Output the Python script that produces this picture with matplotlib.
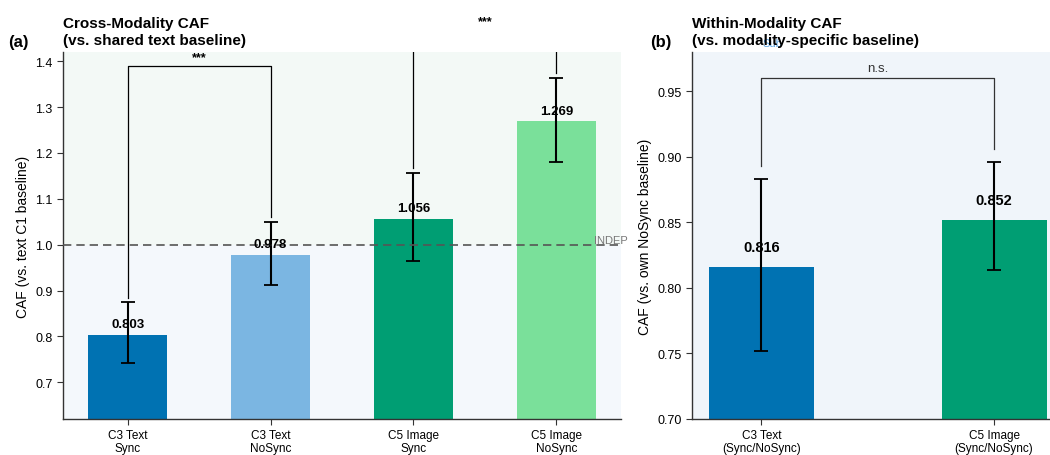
import matplotlib
matplotlib.use("Agg")
import matplotlib.pyplot as plt
import numpy as np

plt.rcParams['font.family'] = ['Liberation Sans', 'DejaVu Sans']

# Panel (a) data
cats_a = ["C3 Text\nSync", "C3 Text\nNoSync", "C5 Image\nSync", "C5 Image\nNoSync"]
vals_a = [0.803, 0.978, 1.056, 1.269]
lo_a = [0.741, 0.913, 0.965, 1.181]
hi_a = [0.874, 1.050, 1.157, 1.364]
colors_a = ["#0072B2", "#7BB6E2", "#009E73", "#7AE09A"]

# Panel (b) data
cats_b = ["C3 Text\n(Sync/NoSync)", "C5 Image\n(Sync/NoSync)"]
vals_b = [0.816, 0.852]
lo_b = [0.752, 0.814]
hi_b = [0.883, 0.896]
colors_b = ["#0072B2", "#009E73"]

# significance
sig_a = [(0, 1, 1.389, "***"), (2, 3, 1.468, "***")]
sig_b = [(0, 1, 0.960, "n.s.")]

W, H = 1050, 456
fig = plt.figure(figsize=(W / 100, H / 100), dpi=100)
ax1 = fig.add_axes([63 / W, 1 - 420 / H, 558 / W, 367 / H])
ax2 = fig.add_axes([692 / W, 1 - 420 / H, 358 / W, 367 / H])

def style(ax):
    for s in ["top", "right"]:
        ax.spines[s].set_visible(False)
    for s in ["left", "bottom"]:
        ax.spines[s].set_color("#333333")
        ax.spines[s].set_linewidth(1.0)
    ax.tick_params(axis="y", labelsize=9, color="#333333", length=4)
    ax.tick_params(axis="x", labelsize=8.5, color="#333333", length=4, pad=3)

# ---- Panel a ----
xa = np.arange(len(vals_a))
ax1.set_xlim(-0.4525, 3.4525)
ax1.set_ylim(0.62, 1.42)
ax1.axhspan(1.0, 2.0, color="#f3f9f6", zorder=0, lw=0)
ax1.axhspan(0.0, 1.0, color="#f4f8fc", zorder=0, lw=0)
ax1.set_facecolor("white")
yerr_a = np.array([np.array(vals_a) - np.array(lo_a), np.array(hi_a) - np.array(vals_a)])
ax1.bar(xa, vals_a, width=0.55, color=colors_a, edgecolor="none", zorder=2)
ax1.errorbar(xa, vals_a, yerr=yerr_a, fmt="none", ecolor="black", elinewidth=1.5,
             capsize=5, capthick=1.3, zorder=3)
ax1.axhline(1.0, color="#555555", ls="--", lw=1.2, dashes=(5, 3), zorder=4)
ax1.text(3.5, 1.0, "INDEP", ha="right", va="bottom", fontsize=8, color="#777777",
         zorder=5)
for x, v in zip(xa, vals_a):
    ax1.text(x, v + 0.01, f"{v:.3f}", ha="center", va="bottom", fontsize=9.5,
             fontweight="bold", zorder=4)
for i, j, y, lab in sig_a:
    ax1.plot([xa[i], xa[i], xa[j], xa[j]], [hi_a[i] + 0.01, y, y, hi_a[j] + 0.01],
             color="black", lw=0.9, zorder=1.8)
    ax1.text((xa[i] + xa[j]) / 2, y + 0.006, lab, ha="center", va="bottom",
             fontsize=9, fontweight="bold")
ax1.set_xticks(xa)
ax1.set_xticklabels(cats_a, linespacing=1.15)
ax1.set_yticks([0.7, 0.8, 0.9, 1.0, 1.1, 1.2, 1.3, 1.4])
ax1.set_ylabel("CAF (vs. text C1 baseline)", fontsize=10)
style(ax1)
ax1.set_title("Cross-Modality CAF\n(vs. shared text baseline)", loc="left",
              fontsize=11, fontweight="bold", pad=6, ha="left")
fig.text(8 / W, 1 - 42 / H, "(a)", fontsize=12, fontweight="bold", va="center")

# ---- Panel b ----
xb = np.arange(len(vals_b))
ax2.set_xlim(-0.2975, 1.24)
ax2.set_ylim(0.70, 0.98)
ax2.set_facecolor("#f0f5fa")
yerr_b = np.array([np.array(vals_b) - np.array(lo_b), np.array(hi_b) - np.array(vals_b)])
ax2.bar(xb, vals_b, width=0.45, color=colors_b, edgecolor="none", zorder=2)
ax2.errorbar(xb, vals_b, yerr=yerr_b, fmt="none", ecolor="black", elinewidth=1.5,
             capsize=5, capthick=1.3, zorder=3)
for x, v in zip(xb, vals_b):
    ax2.text(x, v + 0.01, f"{v:.3f}", ha="center", va="bottom", fontsize=10.5,
             fontweight="bold", zorder=4)
for i, j, y, lab in sig_b:
    ax2.plot([xb[i], xb[i], xb[j], xb[j]], [hi_b[i] + 0.01, y, y, hi_b[j] + 0.01],
             color="#333333", lw=0.9, zorder=1.8)
    ax2.text((xb[i] + xb[j]) / 2, y + 0.003, lab, ha="center", va="bottom", fontsize=9.5,
             color="#333333")
ax2.text(0.05, 0.987, "Sub", ha="center", va="center", fontsize=8, color="#56A0E0",
         clip_on=False, zorder=0)
ax2.set_xticks(xb)
ax2.set_xticklabels(cats_b, linespacing=1.15)
ax2.set_yticks([0.70, 0.75, 0.80, 0.85, 0.90, 0.95])
ax2.set_yticklabels([f"{t:.2f}" for t in [0.70, 0.75, 0.80, 0.85, 0.90, 0.95]])
ax2.set_ylabel("CAF (vs. own NoSync baseline)", fontsize=10)
style(ax2)
t = ax2.set_title("Within-Modality CAF\n(vs. modality-specific baseline)", loc="left",
                  fontsize=11, fontweight="bold", pad=6)
t.set_zorder(10)
fig.text(650 / W, 1 - 42 / H, "(b)", fontsize=12, fontweight="bold", va="center")

fig.savefig("out.png", dpi=100)
